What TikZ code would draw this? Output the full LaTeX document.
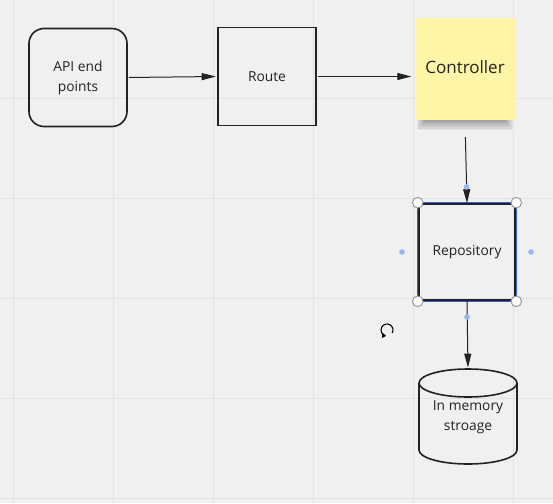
\documentclass[tikz,border=0pt]{standalone}
\usepackage{fontspec}
\setmainfont{Open Sans}
\usetikzlibrary{arrows.meta}
\definecolor{bg}{RGB}{240,240,240}
\definecolor{gridc}{RGB}{226,226,226}
\definecolor{ink}{RGB}{34,34,34}
\definecolor{sticky}{RGB}{255,245,166}
\definecolor{selblue}{RGB}{50,95,215}
\definecolor{dotblue}{RGB}{150,182,245}
\tikzset{
  base/.style={text=ink, align=center, font=\fontsize{13.8}{20}\selectfont, inner sep=0pt},
  boxed/.style={base, draw=ink, line width=1.6pt, minimum width=98pt, minimum height=98pt},
  rbox/.style={boxed, rounded corners=15pt},
  note/.style={base, fill=sticky, minimum width=101pt, minimum height=102pt, font=\fontsize{17}{20}\selectfont},
  conn/.style={draw=ink, line width=1pt, -{Triangle[length=14pt,width=7pt]}},
  handle/.style={draw=gray!80, fill=white, line width=1pt},
  bluedot/.style={fill=dotblue},
}
\begin{document}
\begin{tikzpicture}[x=1pt,y=-1pt]
\useasboundingbox (0,0) rectangle (553,503);
\fill[bg] (0,0) rectangle (553,503);
\foreach \x in {13,113,213,313,413,513} \draw[gridc, line width=1pt] (\x,0) -- (\x,503);
\foreach \y in {98,198,298,398,498} \draw[gridc, line width=1pt] (0,\y) -- (553,\y);

% sticky shadow (soft)
\foreach \i in {0,1,...,7} {
  \fill[black, opacity=0.05] (417+\i*1.2,112) rectangle (513-\i*1.2,130-\i*1.4);
}
\node[rbox] (api) at (78,77.5) {API end\\points};
\node[boxed] (route) at (267,76.5) {Route};
\node[note] (ctrl) at (465,69) {\raisebox{3pt}{Controller}};
\node[boxed, minimum width=96pt, minimum height=96pt] (repo) at (467,252) {Repository};
\draw[selblue, line width=1.2pt] (417.7,202.7) rectangle (516.3,301.3);

% cylinder
\node[base, minimum width=98pt, minimum height=95pt] (db) at (468,417.3) {In memory\\stroage};
\draw[ink, line width=1.6pt] (468,383) ellipse [x radius=49, y radius=14];
\draw[ink, line width=1.6pt] (419,383) -- (419,450) arc[start angle=180, end angle=0, x radius=49, y radius=14] -- (517,383);

% connectors
\draw[conn, shorten <=1pt, shorten >=1.5pt] (api.east) -- (route.west);
\draw[conn, shorten <=1pt, shorten >=3pt] (route.east) -- (route.east -| ctrl.west);
\draw[conn, shorten <=17pt, shorten >=0pt] (ctrl.south) -- (repo.north);
\draw[conn, shorten >=2pt] (repo.south) -- (db.north);

% selection handles
\foreach \p in {(417.7,202.7),(516.3,202.7),(417.7,301.3),(516.3,301.3)}
  \draw[handle] \p circle (5.3pt);
\fill[bluedot] (402,252) circle (2.8pt);
\fill[bluedot] (531,252) circle (2.8pt);
\fill[bluedot] (467,317) circle (2.8pt);
\fill[bluedot] (466.5,187) circle (2.8pt);

% rotate icon
\draw[black, line width=1.1pt, -{Triangle[length=4pt,width=5pt]}] (387,330) ++(30:6) arc[start angle=30, end angle=-262, radius=6];
\end{tikzpicture}
\end{document}
